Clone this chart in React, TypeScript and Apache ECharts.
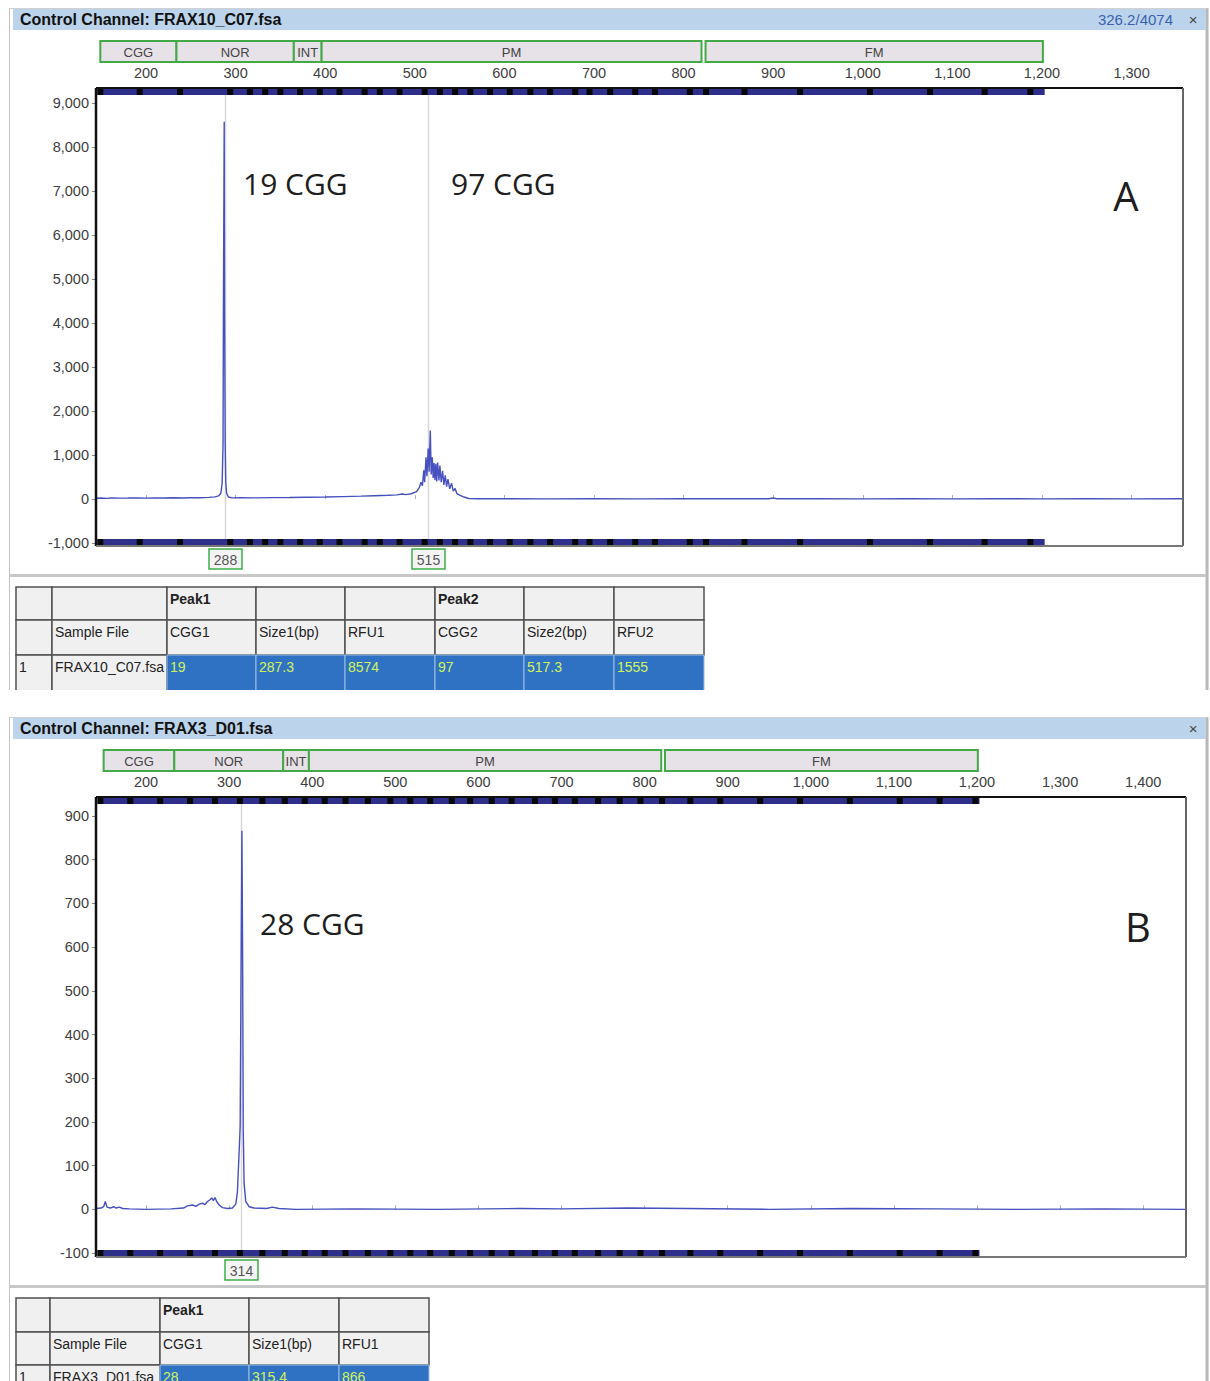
import React, { useEffect, useRef } from 'react';
import * as echarts from 'echarts';

const W = 1210;
const H = 1381;
const UI_FONT = '"Liberation Sans", Arial, sans-serif';
const NOTE_FONT = '"Open Sans", "Noto Sans", sans-serif';

// ---------------- Panel A ----------------
const titleA = 'Control Channel: FRAX10_C07.fsa';
const statusA = '326.2/4074';
const sampleA = 'FRAX10_C07.fsa';
const cggA = [19, 97];
const sizeA = [287.3, 517.3];
const rfuA = [8574, 1555];
const markersA = [288, 515];
const xTicksA = [200, 300, 400, 500, 600, 700, 800, 900, 1000, 1100, 1200, 1300];
const yTicksA = [-1000, 0, 1000, 2000, 3000, 4000, 5000, 6000, 7000, 8000, 9000];
const traceA: number[][] = [
  [144, 18], [150, 22], [156, 15], [162, 24], [170, 20], [180, 22], [190, 26], [200, 20], [210, 24],
  [220, 22], [230, 27], [240, 24], [250, 28], [260, 30], [270, 36], [277, 48], [281, 70], [283.5, 130],
  [285, 360], [286, 1250], [286.4, 4300], [287.3, 8574], [287.7, 4300], [288.4, 1250], [289, 380],
  [290, 130], [292, 45], [296, 25], [305, 28], [320, 26], [340, 32], [360, 35], [380, 40], [400, 45],
  [420, 55], [440, 65], [455, 75], [470, 85], [480, 95], [486, 115], [490, 100], [496, 120], [502, 170],
  [505, 260], [507, 380], [508.5, 300], [510, 650], [511, 380], [512.5, 950], [513.5, 520], [515, 1150],
  [516, 620], [517.3, 1555], [518.3, 560], [519.5, 950], [520.5, 480], [521.5, 820], [522.5, 430],
  [523.5, 800], [524.5, 400], [525.5, 830], [527, 420], [528, 760], [529.5, 380], [531, 640], [532.5, 320],
  [534, 540], [535.5, 280], [537, 450], [539, 230], [541, 360], [543, 180], [545, 240], [547, 120],
  [550, 90], [555, 45], [560, 12], [570, 5], [600, 6], [650, 4], [700, 5], [750, 4], [800, 6], [850, 5],
  [895, 6], [900, 22], [904, 6], [950, 5], [1000, 4], [1050, 5], [1100, 4], [1150, 5], [1200, 4],
  [1250, 5], [1300, 4], [1357, 5],
];
const ladderA = [149, 193, 238, 294, 316, 333, 350, 372, 394, 416, 444, 461, 483, 511, 528, 545, 562, 584,
  606, 629, 651, 679, 695, 718, 746, 768, 807, 825, 868, 930, 1008, 1075, 1136, 1187];

// ---------------- Panel B ----------------
const titleB = 'Control Channel: FRAX3_D01.fsa';
const sampleB = 'FRAX3_D01.fsa';
const cggB = [28];
const sizeB = [315.4];
const rfuB = [866];
const markersB = [314];
const xTicksB = [200, 300, 400, 500, 600, 700, 800, 900, 1000, 1100, 1200, 1300, 1400];
const yTicksB = [-100, 0, 100, 200, 300, 400, 500, 600, 700, 800, 900];
const traceB: number[][] = [
  [140, 2], [146, 3], [149, 6], [151, 18], [153, 5], [157, 3], [161, 6], [164, 3], [168, 5], [172, 2],
  [180, 1], [200, 0], [230, 1], [245, 3], [250, 8], [256, 10], [260, 7], [264, 12], [268, 14], [271, 11],
  [274, 18], [277, 22], [279, 26], [281, 20], [283, 27], [285, 18], [288, 10], [292, 4], [298, 2],
  [304, 3], [308, 12], [310, 40], [312, 130], [313.3, 190], [314.5, 600], [315.4, 866], [316.2, 600],
  [317, 180], [318, 60], [320, 18], [324, 6], [330, 3], [345, 2], [352, 5], [360, 2], [380, 0], [450, 1],
  [550, 0], [650, 2], [700, 1], [780, 3], [850, 2], [950, 0], [1050, 2], [1150, 1], [1250, 0], [1350, 1],
  [1451, 0],
];
const ladderB = [145, 181, 217, 253, 283, 313, 340, 367, 391, 415, 440, 467, 494, 518, 542, 568, 590, 616,
  640, 668, 692, 716, 744, 770, 795, 821, 855, 891, 939, 987, 1047, 1107, 1155, 1198];

// ---------------- Shared ----------------
const regionNames = ['CGG', 'NOR', 'INT', 'PM', 'FM'];
const regionStart = [149, 234, 365, 396, 824.5];
const regionEnd = [234, 365, 396, 820, 1201];
const ladderSpan = [146, 1203];
const headerRow1A = ['', '', 'Peak1', '', '', 'Peak2', '', ''];
const headerRow2A = ['', 'Sample File', 'CGG1', 'Size1(bp)', 'RFU1', 'CGG2', 'Size2(bp)', 'RFU2'];
const headerRow1B = ['', '', 'Peak1', '', ''];
const headerRow2B = ['', 'Sample File', 'CGG1', 'Size1(bp)', 'RFU1'];

const fmt = (v: number) => v.toLocaleString('en-US');

const axisX = (gi: number, min: number, max: number, ticks: number[]) => ({
  type: 'value', gridIndex: gi, min, max, position: 'top',
  axisLine: { show: false },
  axisTick: { show: true, customValues: ticks, length: 4, lineStyle: { color: '#b0b0b0' } },
  axisLabel: { customValues: ticks, formatter: fmt, color: '#404040', fontSize: 14.5, fontFamily: UI_FONT, margin: 8 },
  splitLine: { show: false },
});
const axisY = (gi: number, min: number, max: number, ticks: number[]) => ({
  type: 'value', gridIndex: gi, min, max,
  axisLine: { show: false },
  axisTick: { show: true, customValues: ticks, length: 4, lineStyle: { color: '#888' } },
  axisLabel: { customValues: ticks, formatter: fmt, color: '#404040', fontSize: 14.5, fontFamily: UI_FONT, margin: 7 },
  splitLine: { show: false },
});

const regionSeries = (ai: number) => ({
  type: 'custom', xAxisIndex: ai, yAxisIndex: ai, silent: true, clip: false, z: 4,
  data: regionNames.map((_, i) => [regionStart[i], regionEnd[i], i]),
  renderItem: (params: any, api: any) => {
    const cs = params.coordSys;
    const x0 = api.coord([api.value(0), 0])[0];
    const x1 = api.coord([api.value(1), 0])[0];
    const name = regionNames[api.value(2)];
    return {
      type: 'group', children: [
        { type: 'rect', shape: { x: x0, y: cs.y - 47, width: x1 - x0, height: 21 }, style: { fill: '#e7e2e7', stroke: '#43a947', lineWidth: 2 } },
        { type: 'text', x: (x0 + x1) / 2, y: cs.y - 36, style: { text: name, align: 'center', verticalAlign: 'middle', textAlign: 'center', textVerticalAlign: 'middle', fill: '#444', font: `13px ${UI_FONT}` } },
      ],
    };
  },
});

const ladderSeries = (ai: number, blocks: number[]) => ({
  type: 'custom', xAxisIndex: ai, yAxisIndex: ai, silent: true, clip: false, z: 6,
  data: [[ladderSpan[0], ladderSpan[1], 0], ...blocks.map((b) => [b, b, 1])],
  renderItem: (params: any, api: any) => {
    const cs = params.coordSys;
    const a = api.coord([api.value(0), 0])[0];
    const b = api.coord([api.value(1), 0])[0];
    const band = api.value(2) === 0;
    const x = band ? a : a - 3;
    const w = band ? b - a : 6;
    const fill = band ? '#2d2f8a' : '#080808';
    return {
      type: 'group', children: [
        { type: 'rect', shape: { x, y: cs.y + 1, width: w, height: 6 }, style: { fill } },
        { type: 'rect', shape: { x, y: cs.y + cs.height - 7, width: w, height: 6 }, style: { fill } },
      ],
    };
  },
});

const markerSeries = (ai: number, marks: number[]) => ({
  type: 'custom', xAxisIndex: ai, yAxisIndex: ai, silent: true, clip: false, z: 2,
  data: marks.map((m) => [m, 0]),
  renderItem: (params: any, api: any) => {
    const cs = params.coordSys;
    const x = Math.round(api.coord([api.value(0), 0])[0]) + 0.5;
    const by = cs.y + cs.height;
    return {
      type: 'group', children: [
        { type: 'line', shape: { x1: x, y1: cs.y + 7, x2: x, y2: by - 7 }, style: { stroke: '#d8d8d8', lineWidth: 1.5 } },
        { type: 'rect', shape: { x: x - 16.5, y: by + 3, width: 33, height: 20 }, style: { fill: '#f4f4f4', stroke: '#3fae49', lineWidth: 1.5 } },
        { type: 'text', x, y: by + 13.5, style: { text: String(api.value(0)), align: 'center', verticalAlign: 'middle', textAlign: 'center', textVerticalAlign: 'middle', fill: '#555', font: `14px ${UI_FONT}` } },
      ],
    };
  },
});

const traceSeries = (ai: number, data: number[][]) => ({
  type: 'line', xAxisIndex: ai, yAxisIndex: ai, data, showSymbol: false, symbol: 'none', z: 3,
  silent: true,
  lineStyle: { color: '#4650be', width: 1.4 },
});

function buildTable(x0: number, y0: number, widths: number[], heights: number[], rows: string[][]) {
  const els: any[] = [];
  let y = y0;
  rows.forEach((row, r) => {
    let x = x0;
    const h = heights[r];
    row.forEach((txt, c) => {
      const w = widths[c];
      const isData = r === 2 && c >= 2;
      els.push({ type: 'rect', z: isData ? 10 : 5, shape: { x, y, width: w, height: h }, style: { fill: isData ? '#2f72c3' : '#f0f0f0', stroke: isData ? '#9dbde3' : '#505050', lineWidth: isData ? 1 : 1.5 } });
      if (txt) {
        els.push({ type: 'text', z: isData ? 11 : 6, x: x + 3, y: y + 12, style: { text: txt, fill: isData ? '#d2f25a' : '#222', font: `${r === 0 ? 'bold ' : ''}14px ${UI_FONT}`, verticalAlign: 'middle', textVerticalAlign: 'middle' } });
      }
      x += w;
    });
    y += h;
  });
  return els;
}

function frame(top: number, bottom: number, title: string, status: string) {
  return [
    { type: 'line', z: 1, shape: { x1: 9.5, y1: top, x2: 9.5, y2: bottom }, style: { stroke: '#c4c4c4', lineWidth: 1 } },
    { type: 'line', z: 1, shape: { x1: 1207, y1: top, x2: 1207, y2: bottom }, style: { stroke: '#b8b8b8', lineWidth: 3 } },
    { type: 'line', z: 1, shape: { x1: 9, y1: top + 0.5, x2: 1207, y2: top + 0.5 }, style: { stroke: '#d0d0d0', lineWidth: 1 } },
    { type: 'rect', z: 1, shape: { x: 13, y: top + 1, width: 1193, height: 21 }, style: { fill: '#bcd4eb' } },
    { type: 'text', z: 2, x: 20, y: top + 11.5, style: { text: title, fill: '#111', font: `bold 16px ${UI_FONT}`, verticalAlign: 'middle', textVerticalAlign: 'middle' } },
    ...(status ? [{ type: 'text', z: 2, x: 1173, y: top + 11.5, style: { text: status, fill: '#3b62b0', font: `15px ${UI_FONT}`, align: 'right', textAlign: 'right', verticalAlign: 'middle', textVerticalAlign: 'middle' } }] : []),
    { type: 'text', z: 2, x: 1193, y: top + 11.5, style: { text: '×', fill: '#444', font: `15px ${UI_FONT}`, align: 'center', textAlign: 'center', verticalAlign: 'middle', textVerticalAlign: 'middle' } },
  ];
}

function plotEdges(left: number, top: number, width: number, height: number) {
  return [
    { type: 'line', z: 20, shape: { x1: left, y1: top, x2: left, y2: top + height }, style: { stroke: '#111', lineWidth: 2.5 } },
    { type: 'line', z: 20, shape: { x1: left, y1: top, x2: left + width, y2: top }, style: { stroke: '#111', lineWidth: 2 } },
    { type: 'line', z: 20, shape: { x1: left + width, y1: top, x2: left + width, y2: top + height }, style: { stroke: '#666', lineWidth: 2 } },
    { type: 'line', z: 20, shape: { x1: left, y1: top + height, x2: left + width, y2: top + height }, style: { stroke: '#777', lineWidth: 2 } },
  ];
}

function note(text: string, x: number, y: number, size: number, align = 'left') {
  return { type: 'text', z: 50, x, y, style: { text, fill: '#1e1e1e', font: `${size}px ${NOTE_FONT}`, align, textAlign: align, verticalAlign: 'middle', textVerticalAlign: 'middle' } };
}

function buildOption() {
  const dataRowA = ['1', sampleA, String(cggA[0]), String(sizeA[0]), String(rfuA[0]), String(cggA[1]), String(sizeA[1]), String(rfuA[1])];
  const dataRowB = ['1', sampleB, String(cggB[0]), String(sizeB[0]), String(rfuB[0])];
  const els: any[] = [
    ...frame(8, 690, titleA, statusA),
    { type: 'rect', z: 1, shape: { x: 10, y: 574, width: 1196, height: 3 }, style: { fill: '#c8c8c8' } },
    ...buildTable(16, 587, [36, 115, 89, 89, 90, 89, 90, 90], [33, 35, 36], [headerRow1A, headerRow2A, dataRowA]),
    { type: 'rect', z: 30, shape: { x: 0, y: 690, width: W, height: 23 }, style: { fill: '#ffffff' } },
    ...frame(717, H, titleB, ''),
    { type: 'rect', z: 1, shape: { x: 10, y: 1285, width: 1196, height: 3 }, style: { fill: '#c8c8c8' } },
    ...buildTable(16, 1298, [34, 110, 89, 90, 90], [34, 33, 34], [headerRow1B, headerRow2B, dataRowB]),
    ...plotEdges(96, 88, 1087, 458),
    ...plotEdges(96, 797, 1090, 460),
    note(`${cggA[0]} CGG`, 243, 183, 30),
    note(`${cggA[1]} CGG`, 451, 183, 30),
    note('A', 1126, 195, 40, 'center'),
    note(`${cggB[0]} CGG`, 260, 923, 30),
    note('B', 1138, 926, 40, 'center'),
  ];
  return {
    animation: false,
    backgroundColor: '#ffffff',
    grid: [
      { left: 96, top: 88, width: 1087, height: 458, show: true, borderWidth: 0, backgroundColor: '#fff' },
      { left: 96, top: 797, width: 1090, height: 460, show: true, borderWidth: 0, backgroundColor: '#fff' },
    ],
    xAxis: [axisX(0, 144.2, 1357.4, xTicksA), axisX(1, 139.8, 1451.5, xTicksB)],
    yAxis: [axisY(0, -1068, 9341, yTicksA), axisY(1, -109, 943.5, yTicksB)],
    series: [
      markerSeries(0, markersA), traceSeries(0, traceA), regionSeries(0), ladderSeries(0, ladderA),
      markerSeries(1, markersB), traceSeries(1, traceB), regionSeries(1), ladderSeries(1, ladderB),
    ],
    graphic: { elements: els },
  };
}

export default function App() {
  const ref = useRef<HTMLDivElement>(null);
  useEffect(() => {
    document.body.style.margin = '0';
    const chart = echarts.init(ref.current!, undefined, { renderer: 'svg', width: W, height: H });
    chart.setOption(buildOption() as any);
    return () => chart.dispose();
  }, []);
  return <div ref={ref} style={{ width: W, height: H, overflow: 'hidden', background: '#fff' }} />;
}
